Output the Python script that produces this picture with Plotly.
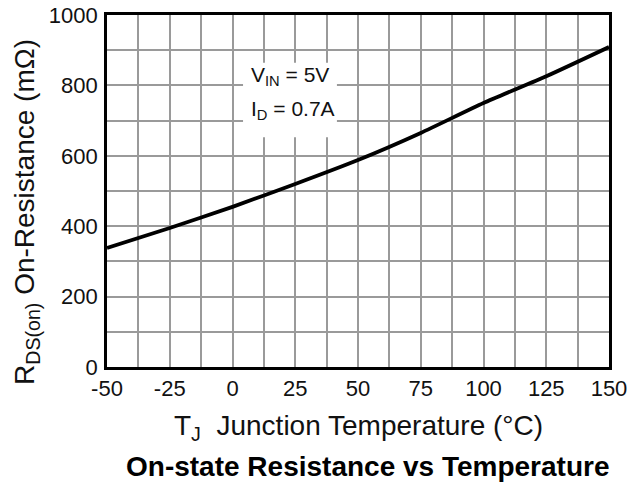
import plotly.graph_objects as go

temp_c = [-50, -25, 0, 25, 50, 75, 100, 125, 150]
rds_on_mohm = [338, 395, 455, 520, 588, 665, 750, 826, 909]

x_ticks = [-50, -25, 0, 25, 50, 75, 100, 125, 150]
y_ticks = [0, 200, 400, 600, 800, 1000]

FONT = "Liberation Sans, Arial, sans-serif"
GRID = "#9a9a9a"

fig = go.Figure()
fig.add_trace(go.Scatter(x=temp_c, y=rds_on_mohm, mode="lines",
                         line=dict(color="black", width=3.8, shape="spline", smoothing=0.6),
                         hoverinfo="skip", showlegend=False))

axis_common = dict(showgrid=True, gridcolor=GRID, gridwidth=1.5,
                   showline=True, linecolor="black", linewidth=2.8, mirror=True,
                   zeroline=False, ticks="", ticklabeloverflow="allow", automargin=False,
                   tickfont=dict(family=FONT, size=22, color="#111"))

fig.update_xaxes(range=[-50, 150], tickvals=x_ticks,
                 ticktext=[str(v) for v in x_ticks],
                 minor=dict(dtick=12.5, tick0=-50, showgrid=True, gridcolor=GRID, gridwidth=1.5),
                 **axis_common)
fig.update_yaxes(range=[0, 1000], tickvals=y_ticks, ticklabelstandoff=2,
                 minor=dict(dtick=100, tick0=0, showgrid=True, gridcolor=GRID, gridwidth=1.5),
                 **axis_common)

# white background box behind the condition text
fig.add_shape(type="rect", xref="x", yref="y", x0=4.2, x1=41.6, y0=653, y1=864,
              fillcolor="white", line=dict(width=0), layer="above")

fig.add_annotation(x=6.6, y=828, xref="x", yref="y", xanchor="left",
                   text="V<sub>IN</sub> = 5V", showarrow=False,
                   font=dict(family=FONT, size=21, color="#111"))
fig.add_annotation(x=6.6, y=730, xref="x", yref="y", xanchor="left",
                   text="I<sub>D</sub> = 0.7A", showarrow=False,
                   font=dict(family=FONT, size=21, color="#111"))

fig.add_annotation(x=0.5, y=-0.172, xref="paper", yref="paper", yanchor="middle",
                   text="T<sub>J</sub>  Junction Temperature (°C)", showarrow=False,
                   font=dict(family=FONT, size=28, color="#111"))
fig.add_annotation(x=0.518, y=-0.284, xref="paper", yref="paper", yanchor="middle",
                   text="<b>On-state Resistance vs Temperature</b>", showarrow=False,
                   font=dict(family=FONT, size=28, color="black"))
fig.add_annotation(x=-0.159, y=0.441, xref="paper", yref="paper", textangle=-90,
                   xanchor="center", yanchor="middle",
                   text="R<sub>DS(on)</sub> On-Resistance (mΩ)", showarrow=False,
                   font=dict(family=FONT, size=28, color="#111"))

fig.update_layout(width=642, height=488, margin=dict(l=107, r=33, t=15, b=121, autoexpand=False),
                  plot_bgcolor="white", paper_bgcolor="white", showlegend=False)

# remove the page body's default margin so the figure fills the window exactly
fig.write_html("out.html", config={"displayModeBar": False},
               post_script="document.body.style.margin='0';")
